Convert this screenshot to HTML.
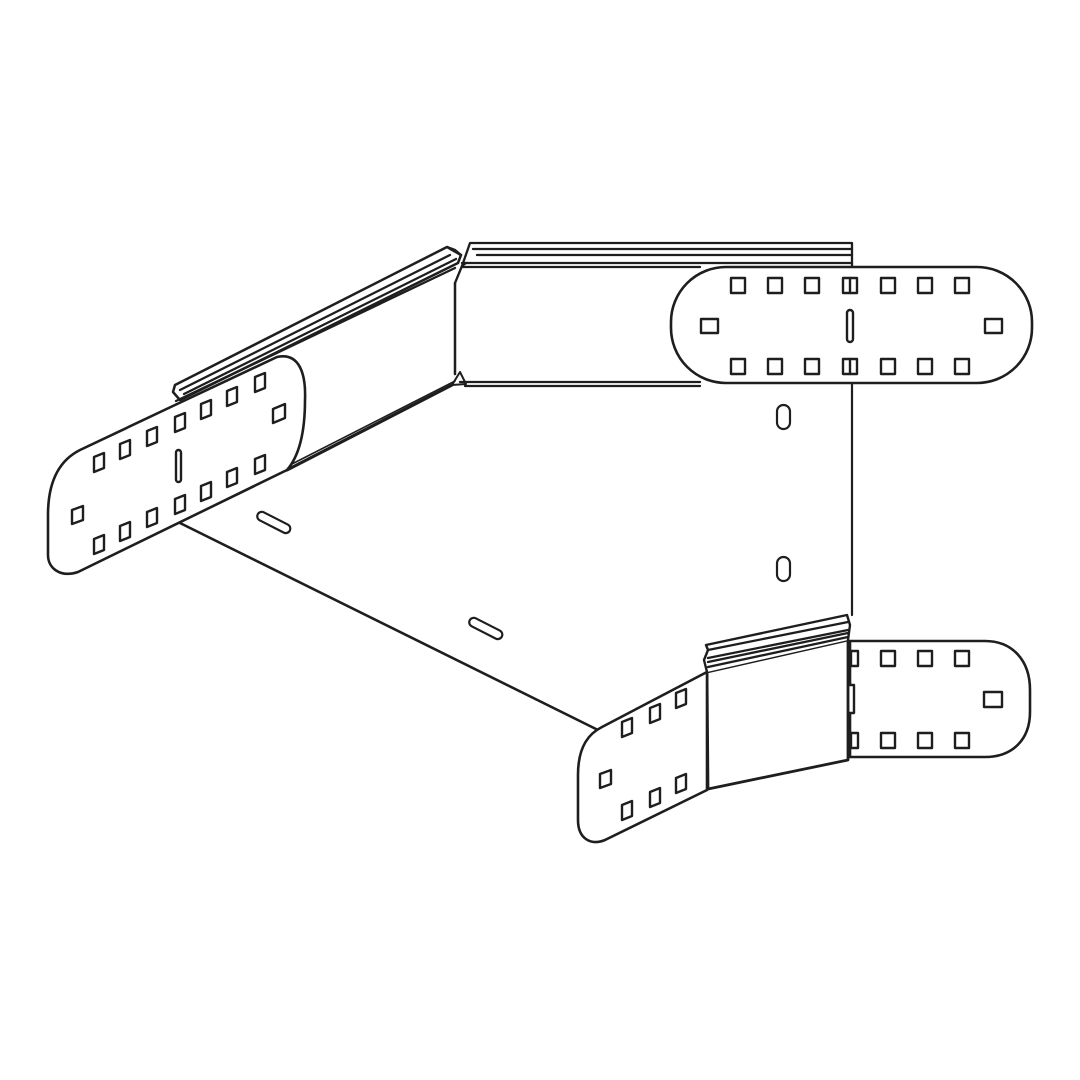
<!DOCTYPE html>
<html><head><meta charset="utf-8"><style>html,body{margin:0;padding:0;background:#fff}svg{display:block}</style></head>
<body>
<svg width="1080" height="1080" viewBox="0 0 1080 1080" xmlns="http://www.w3.org/2000/svg" fill="none" stroke="#1e1e1e" stroke-width="2.3" stroke-linejoin="round" stroke-linecap="round">
<rect width="1080" height="1080" fill="#fff" stroke="none"/>
<line x1="180" y1="523" x2="600" y2="731" stroke-width="2.6"/>
<line x1="852" y1="383" x2="852" y2="615" stroke-width="2.2"/>
<path d="M287 470 L452 385" stroke-width="3.2"/>
<path d="M290 465 L455 381" stroke-width="1.6"/>
<line x1="455" y1="283" x2="455" y2="374" stroke-width="2.5"/>
<line x1="460" y1="382" x2="700" y2="382" stroke-width="2.3"/>
<line x1="465" y1="386" x2="700" y2="386" stroke-width="2.3"/>
<path d="M452 385 L460 372 L466 384 Z" stroke-width="2"/>
<path d="M462 266 L470 243 L852 243 L852 266" stroke-width="2.3"/>
<line x1="473" y1="249" x2="852" y2="249"/>
<line x1="477" y1="255" x2="852" y2="255"/>
<line x1="462" y1="263" x2="852" y2="263"/>
<line x1="462" y1="267" x2="700" y2="267"/>
<path d="M455 283 L462 266 L466 263" />
<path d="M175 385 L173 392 L180 400 L458 263 L461 255 L447 247 Z" stroke-width="2.5"/>
<line x1="180" y1="390" x2="450" y2="255"/>
<line x1="184" y1="394" x2="456" y2="259"/>
<line x1="176" y1="401" x2="455" y2="268"/>
<path d="M447 247 L455 250 L461 255"/>
<path d="M175 405 L277 357 C300 352 306 375 305 400 C305 430 300 455 287 470 L78 572 C60 578 48 568 48 555 L48 515 C48 480 60 460 80 450 Z" fill="#fff" stroke-width="2.6"/>
<g stroke-width="2.4" fill="#fff">
<path d="M94 457 l10 -4 v15 l-10 4 z"/><path d="M120 444 l10 -4 v15 l-10 4 z"/><path d="M147 431 l10 -4 v15 l-10 4 z"/><path d="M175 417 l10 -4 v15 l-10 4 z"/><path d="M201 404 l10 -4 v15 l-10 4 z"/><path d="M227 391 l10 -4 v15 l-10 4 z"/><path d="M255 377 l10 -4 v15 l-10 4 z"/>
<path d="M94 539 l10 -4 v15 l-10 4 z"/><path d="M120 526 l10 -4 v15 l-10 4 z"/><path d="M147 512 l10 -4 v15 l-10 4 z"/><path d="M175 499 l10 -4 v15 l-10 4 z"/><path d="M201 486 l10 -4 v15 l-10 4 z"/><path d="M227 472 l10 -4 v15 l-10 4 z"/><path d="M255 459 l10 -4 v15 l-10 4 z"/>
<path d="M72 510 l11 -4 v14 l-11 4 z"/><path d="M273 409 l12 -5 v14 l-12 5 z"/>
<rect x="176" y="450" width="5" height="32" rx="2.5"/>
</g>
<g stroke-width="2.2" fill="#fff">
<rect x="256" y="518" width="36" height="9" rx="4.5" transform="rotate(27 274 522)"/>
<rect x="468" y="624" width="36" height="9" rx="4.5" transform="rotate(27 486 628)"/>
<rect x="777" y="405" width="13" height="24" rx="6.5"/>
<rect x="777" y="557" width="13" height="24" rx="6.5"/>
</g>
<rect x="671" y="267" width="361" height="116" rx="55" fill="#fff" stroke-width="2.6"/>
<g stroke-width="2.4" fill="#fff">
<rect x="731" y="278" width="14" height="15"/><rect x="768" y="278" width="14" height="15"/><rect x="805" y="278" width="14" height="15"/><rect x="843" y="278" width="14" height="15"/><rect x="881" y="278" width="14" height="15"/><rect x="918" y="278" width="14" height="15"/><rect x="955" y="278" width="14" height="15"/>
<rect x="731" y="359" width="14" height="15"/><rect x="768" y="359" width="14" height="15"/><rect x="805" y="359" width="14" height="15"/><rect x="843" y="359" width="14" height="15"/><rect x="881" y="359" width="14" height="15"/><rect x="918" y="359" width="14" height="15"/><rect x="955" y="359" width="14" height="15"/>
<rect x="701" y="319" width="17" height="14"/><rect x="985" y="319" width="17" height="14"/>
<rect x="847" y="310" width="6" height="32" rx="3"/>
<line x1="850" y1="278" x2="850" y2="293"/><line x1="850" y1="359" x2="850" y2="374"/>
</g>
<path d="M850 641 L985 641 C1012 641 1030 660 1030 690 L1030 712 C1030 740 1012 757 985 757 L850 757 Z" fill="#fff" stroke-width="2.6"/>
<g stroke-width="2.4" fill="#fff">
<rect x="881" y="651" width="14" height="15"/><rect x="918" y="651" width="14" height="15"/><rect x="955" y="651" width="14" height="15"/>
<rect x="881" y="733" width="14" height="15"/><rect x="918" y="733" width="14" height="15"/><rect x="955" y="733" width="14" height="15"/>
<rect x="984" y="692" width="18" height="15"/>
<rect x="851" y="651" width="7" height="15"/><rect x="851" y="733" width="7" height="15"/>
<rect x="848" y="685" width="6" height="28"/>
</g>
<path d="M707 672 L848 640 L848 760 L708 789 Z" fill="#fff" stroke-width="2.8"/>
<path d="M707 672 L704 660 L708 650 L706 645 L847 615 L850 625 L848 640" fill="#fff" stroke-width="2.4"/>
<line x1="708" y1="650" x2="848" y2="622"/>
<line x1="708" y1="658" x2="848" y2="630"/>
<line x1="708" y1="662" x2="848" y2="633"/>
<line x1="708" y1="667" x2="848" y2="637"/>
<path d="M707 672 L707 790 L605 840 C590 846 578 838 578 820 L578 775 C578 745 590 733 602 727 Z" fill="#fff" stroke-width="2.6"/>
<g stroke-width="2.4" fill="#fff">
<path d="M622 722 l10 -4 v15 l-10 4 z"/><path d="M650 708 l10 -4 v15 l-10 4 z"/><path d="M676 693 l10 -4 v15 l-10 4 z"/>
<path d="M622 805 l10 -4 v15 l-10 4 z"/><path d="M650 792 l10 -4 v15 l-10 4 z"/><path d="M676 778 l10 -4 v15 l-10 4 z"/>
<path d="M600 774 l11 -4 v14 l-11 4 z"/>
</g>
</svg>
</body></html>
